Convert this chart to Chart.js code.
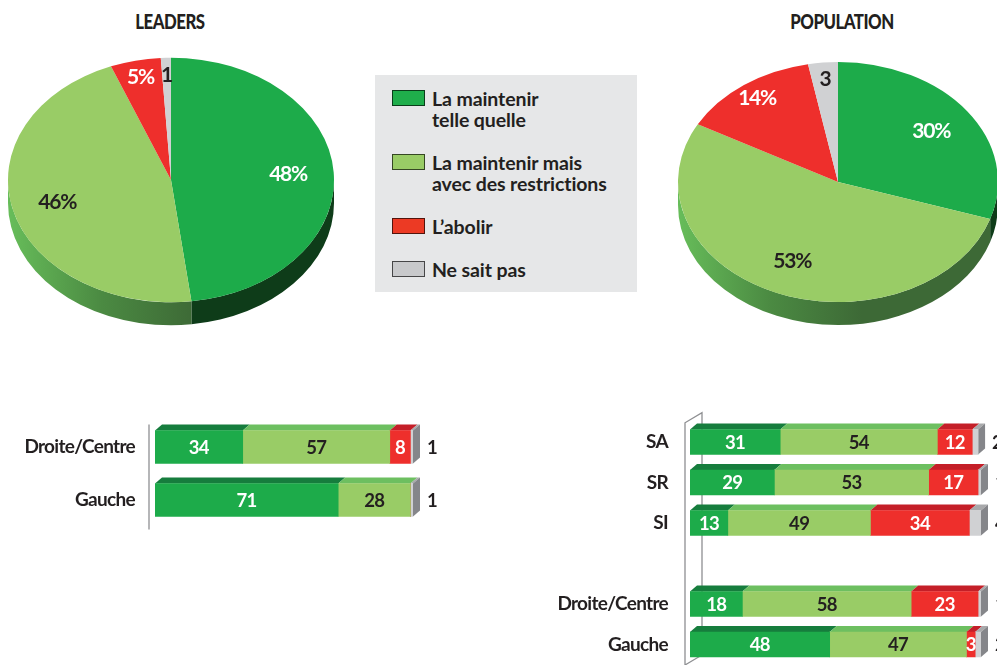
<!DOCTYPE html>
<html lang="fr">
<head>
<meta charset="utf-8">
<script src="https://cdn.jsdelivr.net/npm/chart.js@4/dist/chart.umd.min.js"></script>
<style>
html,body{margin:0;padding:0;background:#fff;width:997px;height:665px;overflow:hidden;}
body{position:relative;font-family:Lato,"Open Sans",sans-serif;color:#231f20;}
canvas{position:absolute;}
.title{position:absolute;top:9px;width:200px;text-align:center;font:900 20px Lato,sans-serif;letter-spacing:-0.6px;line-height:24px;color:#231f20;transform:scaleX(0.84);}
#legend{position:absolute;left:375px;top:75px;width:262px;height:217px;background:#e6e7e8;box-sizing:border-box;padding:12.5px 0 0 17px;}
.item{display:flex;align-items:flex-start;margin-bottom:22px;}
.sw{width:31px;height:14px;margin-top:2.5px;margin-right:7px;border:1px solid rgba(0,0,0,0.65);flex:none;}
.txt{font:700 19.5px Lato,sans-serif;line-height:21px;white-space:pre-line;letter-spacing:-0.1px;color:#231f20;}
</style>
</head>
<body>
<div class="title" style="left:70px">LEADERS</div>
<div class="title" style="left:742px">POPULATION</div>
<div id="legend"></div>
<canvas id="pieL" width="340" height="340" style="left:1px;top:10px"></canvas>
<canvas id="pieP" width="340" height="340" style="left:668px;top:12px"></canvas>
<canvas id="barL" width="440" height="140" style="left:0px;top:400px"></canvas>
<canvas id="barP" width="457" height="265" style="left:540px;top:400px"></canvas>
<script>
// ---------- DATA ----------
const answerLabels = ["La maintenir\ntelle quelle", "La maintenir mais\navec des restrictions", "L’abolir", "Ne sait pas"];
const leadersPie = [48, 46, 5, 1];
const populationPie = [30, 53, 14, 3];

const leadersBarCategories = ["Droite/Centre", "Gauche"];
const leadersMaintenir = [34, 71];
const leadersRestrictions = [57, 28];
const leadersAbolir = [8, 0];
const leadersNeSaitPas = [1, 1];

const popBarCategories = ["SA", "SR", "SI", "", "Droite/Centre", "Gauche"];
const popMaintenir = [31, 29, 13, null, 18, 48];
const popRestrictions = [54, 53, 49, null, 58, 47];
const popAbolir = [12, 17, 34, null, 23, 3];
const popNeSaitPas = [2, 1, 4, null, 1, 2];

// ---------- STYLE ----------
const COLORS = ['#1dab4a', '#99cc66', '#ee2f2c', '#d0d1d3'];
const LEGEND_COLORS = ['#1fae4b', '#99cc66', '#ec3a24', '#c8c9cb'];
const TOP_COLORS = ['#167d3d', '#6dbf60', '#c41f28', '#a8a9ab'];
const TEXT_COLORS = ['#ffffff', '#231f20', '#ffffff', '#231f20'];
const DARK = '#231f20';
const FONT = 'Lato, "Open Sans", sans-serif';

// legend
const legendEl = document.getElementById('legend');
answerLabels.forEach((lab, i) => {
  const it = document.createElement('div'); it.className = 'item';
  const sw = document.createElement('div'); sw.className = 'sw'; sw.style.background = LEGEND_COLORS[i];
  const tx = document.createElement('div'); tx.className = 'txt'; tx.textContent = lab;
  it.appendChild(sw); it.appendChild(tx); legendEl.appendChild(it);
});

// ---------- 3D PIE PLUGIN ----------
const KY = 0.75, DEPTH = 23;
function sideFill(ctx, i, cx, R) {
  if (i === 1) {
    const g = ctx.createLinearGradient(cx - R, 0, cx + R * 0.15, 0);
    g.addColorStop(0, '#67bd5a');
    g.addColorStop(0.5, '#4b8a42');
    g.addColorStop(1, '#3d6936');
    return g;
  }
  return ['#0e3c19', '#3d6936', '#9b1c1c', '#8c8d90'][i];
}
const pie3d = {
  id: 'pie3d',
  beforeDatasetsDraw(chart) {
    const ctx = chart.ctx;
    const meta = chart.getDatasetMeta(0);
    const a0 = meta.data[0];
    const cx = a0.x, cy = a0.y, R = a0.outerRadius;
    meta.data.forEach((arc, i) => {
      const s = Math.max(arc.startAngle, 0), e = Math.min(arc.endAngle, Math.PI);
      if (e <= s) return;
      ctx.beginPath();
      ctx.ellipse(cx, cy, R, R * KY, 0, s, e);
      ctx.lineTo(cx + R * Math.cos(e), cy + R * KY * Math.sin(e) + DEPTH);
      ctx.ellipse(cx, cy + DEPTH, R, R * KY, 0, e, s, true);
      ctx.closePath();
      ctx.fillStyle = sideFill(ctx, i, cx, R);
      ctx.fill();
    });
    ctx.save();
    ctx.translate(cx, cy); ctx.scale(1, KY); ctx.translate(-cx, -cy);
  },
  afterDatasetsDraw(chart) {
    const ctx = chart.ctx;
    ctx.restore();
    const meta = chart.getDatasetMeta(0);
    const data = chart.data.datasets[0].data;
    ctx.save();
    ctx.font = '700 21px ' + FONT;
    ctx.letterSpacing = '-1.2px';
    ctx.textAlign = 'center'; ctx.textBaseline = 'middle';
    meta.data.forEach((arc, i) => {
      const v = data[i];
      const mid = (arc.startAngle + arc.endAngle) / 2;
      const f = v >= 25 ? 0.72 : 0.86;
      const x = arc.x + Math.cos(mid) * arc.outerRadius * f;
      const y = arc.y + Math.sin(mid) * arc.outerRadius * f * KY;
      ctx.fillStyle = TEXT_COLORS[i];
      ctx.fillText(v >= 5 ? v + '%' : String(v), x, y);
    });
    ctx.restore();
  }
};
function makePie(id, values, pad) {
  return new Chart(document.getElementById(id), {
    type: 'pie',
    data: { labels: answerLabels, datasets: [{ data: values, backgroundColor: COLORS, borderWidth: 0 }] },
    options: {
      responsive: false, animation: false, events: [],
      layout: { padding: pad },
      plugins: { legend: { display: false }, tooltip: { enabled: false } }
    },
    plugins: [pie3d]
  });
}
makePie('pieL', leadersPie, 7);
makePie('pieP', populationPie, 10);

// ---------- 3D BAR PLUGIN ----------
const DX = 7, DY = 6;
const bar3d = {
  id: 'bar3d',
  beforeDraw(chart) {
    chart.ctx.letterSpacing = '-0.7px';
  },
  beforeDatasetsDraw(chart, args, opts) {
    const ctx = chart.ctx, a = chart.chartArea;
    ctx.save();
    ctx.strokeStyle = '#8e8f92'; ctx.lineWidth = 1.3;
    if (opts.wall) {
      const fx = a.left - 5, bx = a.left + 12;
      ctx.beginPath();
      ctx.moveTo(fx, chart.height); ctx.lineTo(fx, a.top + 1); ctx.lineTo(bx, a.top - 9);
      ctx.lineTo(bx, chart.height - 10); ctx.lineTo(fx, chart.height);
      ctx.stroke();
    } else {
      ctx.beginPath();
      ctx.moveTo(a.left - 6, a.top + 4); ctx.lineTo(a.left - 6, a.bottom + 3);
      ctx.stroke();
    }
    const n = chart.data.labels.length;
    for (let j = 0; j < n; j++) {
      let last = null;
      chart.data.datasets.forEach((ds, di) => {
        const v = ds.data[j];
        if (!v) return;
        const el = chart.getDatasetMeta(di).data[j];
        const left = Math.min(el.base, el.x), right = Math.max(el.base, el.x);
        const top = el.y - el.height / 2;
        ctx.fillStyle = TOP_COLORS[di];
        ctx.beginPath();
        ctx.moveTo(left, top); ctx.lineTo(left + DX, top - DY);
        ctx.lineTo(right + DX, top - DY); ctx.lineTo(right, top);
        ctx.closePath(); ctx.fill();
        last = { right, top, bottom: top + el.height };
      });
      if (last) {
        ctx.fillStyle = '#85868a';
        ctx.beginPath();
        ctx.moveTo(last.right, last.top); ctx.lineTo(last.right + DX, last.top - DY);
        ctx.lineTo(last.right + DX, last.bottom - DY); ctx.lineTo(last.right, last.bottom);
        ctx.closePath(); ctx.fill();
      }
    }
    ctx.restore();
  },
  afterDatasetsDraw(chart) {
    const ctx = chart.ctx;
    ctx.save();
    ctx.font = '700 18.5px ' + FONT;
    ctx.letterSpacing = '-0.7px';
    ctx.textBaseline = 'middle';
    const nds = chart.data.datasets.length;
    chart.data.datasets.forEach((ds, di) => {
      chart.getDatasetMeta(di).data.forEach((el, j) => {
        const v = ds.data[j];
        if (!v) return;
        ctx.fillStyle = TEXT_COLORS[di];
        if (di === nds - 1) {
          ctx.textAlign = 'left';
          ctx.fillStyle = DARK;
          ctx.fillText(String(v), Math.max(el.base, el.x) + DX + 7, el.y + 1);
        } else {
          ctx.textAlign = 'center';
          ctx.fillText(String(v), (el.base + el.x) / 2, el.y + 1);
        }
      });
    });
    ctx.restore();
  }
};
function makeBar(id, cats, series, cfg) {
  return new Chart(document.getElementById(id), {
    type: 'bar',
    data: {
      labels: cats,
      datasets: series.map((d, i) => ({
        label: answerLabels[i], data: d, backgroundColor: COLORS[i],
        borderWidth: 0, barThickness: cfg.thick
      }))
    },
    options: {
      indexAxis: 'y', responsive: false, animation: false, events: [],
      layout: { padding: cfg.pad },
      plugins: { legend: { display: false }, tooltip: { enabled: false }, bar3d: { wall: cfg.wall } },
      scales: {
        x: { stacked: true, min: 0, max: 100, display: false },
        y: {
          stacked: true,
          grid: { display: false, drawTicks: false },
          border: { display: false },
          ticks: { padding: cfg.tickPad, color: DARK, font: { family: FONT, weight: '700', size: 19 } },
          afterFit(s) { s.width = cfg.axisW; s.paddingTop = 0; s.paddingBottom = 0; }
        }
      }
    },
    plugins: [bar3d]
  });
}
makeBar('barL', leadersBarCategories,
  [leadersMaintenir, leadersRestrictions, leadersAbolir, leadersNeSaitPas],
  { thick: 33, pad: { top: 20.5, bottom: 13.5, right: 27, left: 0 }, tickPad: 20, axisW: 155, wall: false });
makeBar('barP', popBarCategories,
  [popMaintenir, popRestrictions, popAbolir, popNeSaitPas],
  { thick: 25, pad: { top: 21.75, bottom: 0.25, right: 16, left: 0 }, tickPad: 22, axisW: 150, wall: true });
</script>
</body>
</html>
